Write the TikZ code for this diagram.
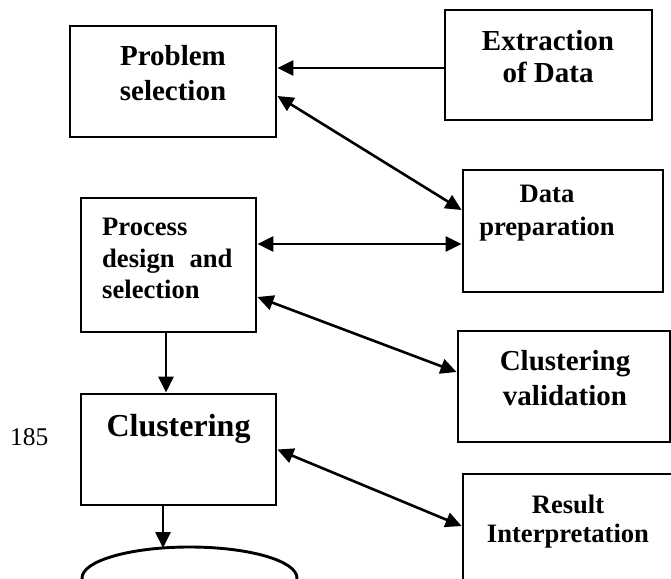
\documentclass[tikz,border=0pt]{standalone}
\usepackage{fontspec}
\setmainfont{Liberation Serif}
\usetikzlibrary{arrows.meta,shapes.geometric}
\begin{document}
\begin{tikzpicture}[x=1pt,y=-1pt,
  box/.style={draw,line width=2.9pt,rectangle,inner sep=0pt},
  arr/.style={line width=2.6pt,-{Triangle[length=16pt,width=15pt]}},
  darr/.style={line width=2.6pt,{Triangle[length=16pt,width=15pt]}-{Triangle[length=16pt,width=15pt]}},
  tA/.style={inner sep=0pt,anchor=base,font=\fontsize{29}{34}\selectfont\bfseries},
  tB/.style={inner sep=0pt,anchor=base,font=\fontsize{26.6}{32}\selectfont\bfseries},
  tC/.style={inner sep=0pt,anchor=base,font=\fontsize{32}{38}\selectfont\bfseries},
  tL/.style={inner sep=0pt,anchor=base west,font=\fontsize{26.6}{32}\selectfont\bfseries}]
\useasboundingbox (0,0) rectangle (671,578);
\begin{scope}
\clip (0,0) rectangle (671,578);
% boxes
\node[box,minimum width=206pt,minimum height=111pt] (ps) at (173,81.5) {};
\node[box,minimum width=207pt,minimum height=110pt] (ex) at (548.5,65) {};
\node[box,minimum width=200pt,minimum height=122pt] (dp) at (563,231) {};
\node[box,minimum width=175pt,minimum height=134pt] (pd) at (168.5,265) {};
\node[box,minimum width=212pt,minimum height=111pt] (cv) at (564,386.5) {};
\node[box,minimum width=195pt,minimum height=111pt] (cl) at (178.5,449.5) {};
\node[box,minimum width=217pt,minimum height=126pt] (ri) at (571.5,537) {};
\node[draw,line width=2.9pt,ellipse,inner sep=0pt,minimum width=215pt,minimum height=62pt] (db) at (189.5,578) {};
% texts
\node[tA] (t1) at (173,65) {Problem};
\node[tA] (t2) at (173,100) {selection};
\node[tA] (t3) at (548,50) {Extraction};
\node[tA] (t4) at (548,82) {of Data};
\node[tB] (t5) at (547,202) {Data};
\node[tB] (t6) at (547,235) {preparation};
\node[tL] (t7) at (102,235) {Process};
\node[tL] (t8) at (102,267) {design\hspace{15pt}and};
\node[tL] (t9) at (102,298) {selection};
\node[tC] (t10) at (178.5,436) {Clustering};
\node[tA] (t11) at (565,370) {Clustering};
\node[tA] (t12) at (565,405) {validation};
\node[tB] (t13) at (568,513) {Result};
\node[tB] (t14) at (568,542) {Interpretation};
\node[inner sep=0pt,anchor=base west,font=\fontsize{25.5}{30}\selectfont] (pg) at (10,445) {185};
% connectors
\draw[arr] ([yshift=-3pt]ex.west) -- ([yshift=-3pt]ex.west -| ps.east);
\draw[darr] ([yshift=-14.5pt]ps.east) -- ([yshift=21pt]dp.west);
\draw[darr] ([yshift=21pt]pd.east) -- ([yshift=21pt]pd.east -| dp.west);
\draw[darr] ([yshift=-32pt]pd.east) -- ([yshift=14.5pt]cv.west);
\draw[arr] ([xshift=-2.5pt]pd.south) -- ([xshift=-2.5pt]pd.south |- cl.north);
\draw[darr] (cl.east) -- ([yshift=11pt]ri.west);
\draw[arr] (cl.south -| 163,0) -- (163,548);
\end{scope}
\end{tikzpicture}
\end{document}
